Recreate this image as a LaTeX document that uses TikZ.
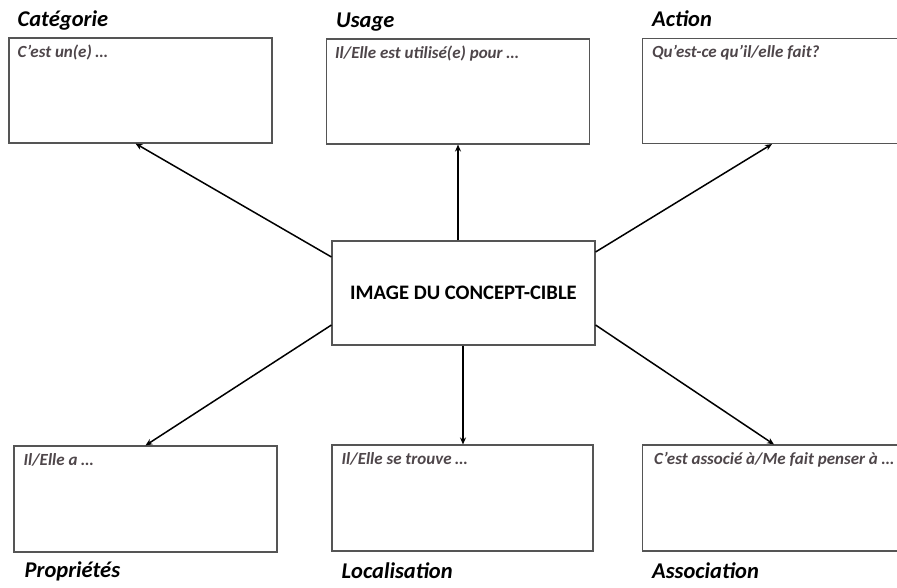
\documentclass[tikz,border=0pt]{standalone}
\usepackage{fontspec}
\setmainfont{Carlito}
\usetikzlibrary{arrows.meta,positioning}
\definecolor{promptgray}{RGB}{78,70,74}
\definecolor{framegray}{RGB}{85,85,85}
\tikzset{
  every picture/.style={x=1pt,y=-1pt},
  fiche/.style={
    draw=framegray,line width=1.1pt,fill=white,
    minimum width=263pt,minimum height=105pt,inner sep=0pt
  },
  titre/.style={
    font=\fontsize{22.5}{25}\selectfont\bfseries\itshape,inner sep=0pt,anchor=base west
  },
  consigne/.style={
    font=\fontsize{17}{19}\selectfont\bfseries\itshape,text=promptgray,inner sep=0pt,anchor=base west
  },
  fleche/.style={
    line width=1.5pt,-{Stealth[length=7pt,width=6pt]}
  }
}

\begin{document}
\begin{tikzpicture}
\useasboundingbox[fill=white] (0,0) rectangle (897,588);
\node[fiche,minimum height=104pt] (centre) at (463.5,293)
  {\fontsize{20.6}{23}\selectfont\bfseries IMAGE DU CONCEPT-CIBLE};

% rangee du haut
\node[fiche] (categorie) at (140.5,90.5) {};
\node[fiche] (usage) at (458,91.5) {};
\node[fiche] (action) at (774,91) {};
% rangee du bas
\node[fiche,minimum height=106pt] (proprietes) at (145.5,499) {};
\node[fiche,minimum width=261pt,minimum height=106pt] (localisation) at (462.5,498) {};
\node[fiche,minimum height=106pt] (association) at (774,498) {};

\node[titre] (t-categorie) at ([xshift=9pt,yshift=11pt]categorie.north west) {Catégorie};
\node[titre] (t-usage) at ([xshift=10pt,yshift=11pt]usage.north west) {Usage};
\node[titre] (t-action) at ([xshift=10pt,yshift=11pt]action.north west) {Action};
\node[titre] (t-proprietes) at ([xshift=11pt,yshift=-25pt]proprietes.south west) {Propriétés};
\node[titre] (t-localisation) at ([xshift=10pt,yshift=-27pt]localisation.south west) {Localisation};
\node[titre] (t-association) at ([xshift=10pt,yshift=-27pt]association.south west) {Association};

\node[consigne] (c-categorie) at ([xshift=9pt,yshift=-20pt]categorie.north west) {C’est un(e) …};
\node[consigne] (c-usage) at ([xshift=9pt,yshift=-20pt]usage.north west) {Il/Elle est utilisé(e) pour …};
\node[consigne] (c-action) at ([xshift=10pt,yshift=-20pt]action.north west) {Qu’est-ce qu’il/elle fait?};
\node[consigne] (c-proprietes) at ([xshift=10pt,yshift=-20pt]proprietes.north west) {Il/Elle a …};
\node[consigne] (c-localisation) at ([xshift=10pt,yshift=-20pt]localisation.north west) {Il/Elle se trouve …};
\node[consigne] (c-association) at ([xshift=12pt,yshift=-20pt]association.north west) {C’est associé à/Me fait penser à …};

\draw[fleche] ([yshift=36pt]centre.west) -- ([xshift=-5pt]categorie.south);
\draw[fleche] (centre.north -| usage.south) -- (usage.south);
\draw[fleche] ([yshift=41pt]centre.east) -- ([xshift=-2pt]action.south);
\draw[fleche] ([yshift=-32pt]centre.west) -- (proprietes.north);
\draw[fleche] ([xshift=.5pt]centre.south -| localisation.north) -- ([xshift=.5pt]localisation.north);
\draw[fleche] ([yshift=-32pt]centre.east) -- (association.north);
\end{tikzpicture}
\end{document}
